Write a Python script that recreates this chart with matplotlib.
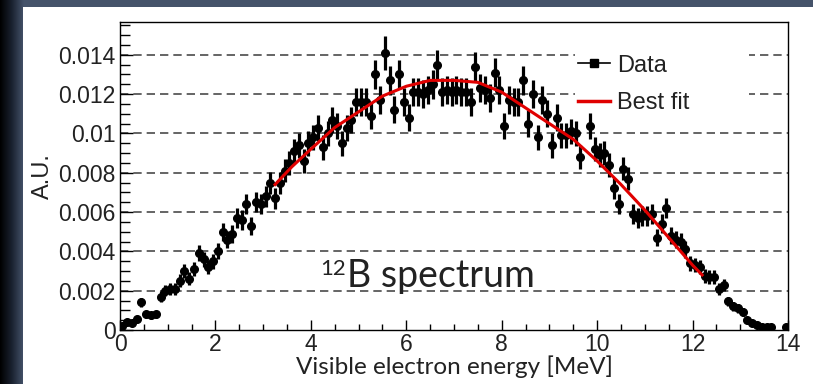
import numpy as np
import matplotlib
matplotlib.use("Agg")
import matplotlib.pyplot as plt
from matplotlib.lines import Line2D
from matplotlib.patches import Rectangle
from matplotlib.colors import LinearSegmentedColormap
from matplotlib.ticker import MultipleLocator

# 12B spectrum, 0.1 MeV bins
energy = np.round(np.arange(140) * 0.1 + 0.05, 2)
counts = [
    0.0002, 0.0004, 0.00035, 0.00055, 0.0014, 0.0008, 0.00075, 0.0008, 0.0017, 0.0020,
    0.0021, 0.0021, 0.0025, 0.0030, 0.0026, 0.0031, 0.0039, 0.0036, 0.0032, 0.0035,
    0.0040, 0.0050, 0.0046, 0.0049, 0.0057, 0.0056, 0.0064, 0.0053, 0.0065, 0.0064,
    0.0068, 0.0075, 0.0067, 0.0075, 0.0081, 0.0085, 0.0091, 0.0094, 0.0086, 0.0095,
    0.0098, 0.0103, 0.0093, 0.0100, 0.0107, 0.0104, 0.0095, 0.0103, 0.0107, 0.0116,
    0.0116, 0.0116, 0.0109, 0.0130, 0.0117, 0.0141, 0.0127, 0.0112, 0.0130, 0.0116,
    0.0108, 0.0121, 0.0121, 0.0120, 0.0122, 0.0125, 0.0135, 0.0121, 0.0122, 0.0121,
    0.0122, 0.0121, 0.0121, 0.0116, 0.0134, 0.0123, 0.0122, 0.0118, 0.0131, 0.0122,
    0.0104, 0.0117, 0.0116, 0.0116, 0.0127, 0.0105, 0.0120, 0.0098, 0.0117, 0.0110,
    0.0094, 0.0108, 0.0099, 0.0099, 0.0101, 0.0100, 0.0088, np.nan, 0.0104, 0.0092,
    0.0089, 0.0090, 0.0084, 0.0072, 0.0064, 0.0082, 0.0077, 0.0059, 0.0057, 0.0058,
    0.0058, 0.0059, 0.0047, 0.0054, 0.0062, 0.0048, 0.0046, 0.0045, 0.0041, 0.0034,
    0.0033, 0.0032, 0.00275, 0.0027, 0.0027, 0.0021, 0.0023, 0.00145, 0.0012, 0.0011,
    0.0009, 0.0005, 0.00036, 0.00025, 0.00017, 0.00017, 0.00014, np.nan, np.nan, 0.00014,
]
errors = [
    0.00009, 0.00013, 0.00012, 0.00015, 0.00024, 0.00018, 0.00018, 0.00018, 0.00027, 0.00029,
    0.0003, 0.0003, 0.00033, 0.00036, 0.00033, 0.00036, 0.0004, 0.00039, 0.00037, 0.00038,
    0.00041, 0.00046, 0.00044, 0.00045, 0.00049, 0.00049, 0.00052, 0.00047, 0.00052, 0.00052,
    0.00054, 0.00056, 0.00053, 0.00056, 0.00058, 0.0006, 0.00062, 0.00063, 0.0006, 0.00063,
    0.00064, 0.00066, 0.00063, 0.00065, 0.00067, 0.00066, 0.00063, 0.00066, 0.00067, 0.0007,
    0.0007, 0.0007, 0.00068, 0.00074, 0.0007, 0.00085, 0.00073, 0.00069, 0.00074, 0.0007,
    0.00068, 0.00072, 0.00072, 0.00071, 0.00072, 0.00073, 0.00076, 0.00072, 0.00072, 0.00072,
    0.00072, 0.00072, 0.00072, 0.0007, 0.00075, 0.00072, 0.00072, 0.00071, 0.00074, 0.00072,
    0.00066, 0.0007, 0.0007, 0.0007, 0.00073, 0.00067, 0.00071, 0.00064, 0.0007, 0.00068,
    0.00063, 0.00068, 0.00065, 0.00065, 0.00065, 0.00065, 0.00061, 0.0, 0.00066, 0.00062,
    0.00061, 0.00062, 0.0006, 0.00055, 0.00052, 0.00059, 0.00057, 0.0005, 0.00049, 0.0005,
    0.0005, 0.0005, 0.00045, 0.00048, 0.00051, 0.00045, 0.00044, 0.00044, 0.00042, 0.00038,
    0.00037, 0.00037, 0.00034, 0.00034, 0.00034, 0.0003, 0.00031, 0.00025, 0.00022, 0.00022,
    0.0002, 0.00015, 0.00012, 0.0001, 0.00008, 0.00008, 0.00008, 0.0, 0.0, 0.00008,
]

# best fit curve, read at a few energies
fit_energy = [3.25, 3.6, 4.0, 4.5, 5.0, 5.5, 6.0, 6.5, 7.0, 7.5, 8.0, 8.5,
              9.0, 9.5, 10.0, 10.5, 11.0, 11.5, 12.0, 12.2]
fit_value = [0.0074, 0.0083, 0.0092, 0.0103, 0.0111, 0.0119, 0.0124, 0.0127, 0.0127,
             0.0126, 0.0121, 0.0113, 0.0105, 0.0097, 0.0086, 0.0074, 0.0061, 0.0047,
             0.0033, 0.0028]

ytick_vals = [0, 0.002, 0.004, 0.006, 0.008, 0.01, 0.012, 0.014]
ytick_labels = ["0", "0.002", "0.004", "0.006", "0.008", "0.01", "0.012", "0.014"]

W, H = 813, 384
fig = plt.figure(figsize=(W / 100, H / 100), dpi=100)
fig.patch.set_facecolor("#45536a")

# dark gradient on the left edge
grad_ax = fig.add_axes([0, 0, 23 / W, 1])
grad = np.linspace(0, 1, 50)[None, :]
cmap = LinearSegmentedColormap.from_list("edge", ["#000000", "#1a2230", "#45536a"])
grad_ax.imshow(grad, aspect="auto", cmap=cmap, extent=[0, 1, 0, 1])
grad_ax.axis("off")

# white panel
panel = fig.add_axes([23 / W, 0, 1 - 23 / W, 1 - 7 / H])
panel.set_facecolor("white")
panel.set_xticks([])
panel.set_yticks([])
for s in panel.spines.values():
    s.set_visible(False)

ax = fig.add_axes([120 / W, (H - 330) / H, 668 / W, 308 / H])
ax.set_facecolor("white")

for yv in ytick_vals[1:]:
    ax.axhline(yv, color="#4a4a4a", lw=1.2, ls=(0, (5, 3)), zorder=1)

# white box behind the legend hides the grid there
ax.add_patch(Rectangle((0.681, 0.70), 0.26, 0.245, transform=ax.transAxes,
                       facecolor="white", edgecolor="none", zorder=2))

ax.errorbar(energy, counts, yerr=errors, fmt="o", color="black", ms=5.5,
            elinewidth=2.3, capsize=0, zorder=3)
ax.plot(fit_energy, fit_value, color="#e00000", lw=2.2, zorder=4)

ax.set_xlim(0, 14)
ax.set_ylim(0, 0.01567)
ax.xaxis.set_major_locator(MultipleLocator(2))
ax.xaxis.set_minor_locator(MultipleLocator(0.5))
ax.set_yticks(ytick_vals)
ax.set_yticklabels(ytick_labels)
ax.yaxis.set_minor_locator(MultipleLocator(0.0005))
ax.tick_params(which="both", direction="in", color="black", width=1)
ax.tick_params(axis="y", which="major", length=9, pad=3, labelsize=16.5, labelcolor="#222222")
ax.tick_params(axis="y", which="minor", length=7)
ax.tick_params(axis="x", which="major", length=7, pad=2, labelsize=16.5, labelcolor="#222222")
ax.tick_params(axis="x", which="minor", length=4)
for lab in ax.get_xticklabels() + ax.get_yticklabels():
    lab.set_family("Liberation Sans")
for s in ax.spines.values():
    s.set_color("black")
    s.set_linewidth(1)

ax.set_xlabel("Visible electron energy [MeV]", fontsize=17.5, family="Lato",
              color="#222222", labelpad=0)
ax.set_ylabel("A.U.", fontsize=17, family="Liberation Sans", color="#222222", labelpad=3)

# "12B spectrum" label: superscript drawn as its own text
ax.text(4.76, 0.0022, "B spectrum", fontsize=27, family="Lato",
        color="#222222", ha="left", va="baseline", zorder=5)
ax.text(4.73, 0.0028, "12", fontsize=16, family="Lato",
        color="#222222", ha="right", va="baseline", zorder=5)

handles = [
    Line2D([], [], color="black", lw=1.2, marker="s", ms=6),
    Line2D([], [], color="#e00000", lw=2.5),
]
leg = ax.legend(handles, ["Data", "Best fit"], loc="upper left",
                bbox_to_anchor=(0.658, 0.955), frameon=False,
                prop={"family": "Liberation Sans", "size": 17},
                handlelength=1.35, handletextpad=0.3, labelspacing=0.65,
                borderpad=0.3)
leg.set_zorder(6)
for t in leg.get_texts():
    t.set_color("#222222")

fig.savefig("out.png", dpi=100, facecolor=fig.get_facecolor())
